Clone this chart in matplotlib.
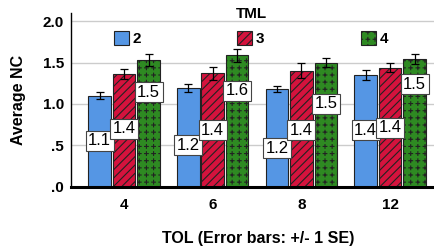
import warnings
import numpy as np
import matplotlib
matplotlib.use("Agg")
import matplotlib.pyplot as plt
from matplotlib.patches import Patch
from matplotlib.path import Path
import matplotlib.hatch as mhatch

warnings.filterwarnings("ignore")

# ---------------- data ----------------
tol_labels = ["4", "6", "8", "12"]
tml_labels = ["2", "3", "4"]
mean_tml2 = [1.10, 1.19, 1.18, 1.355]
mean_tml3 = [1.36, 1.37, 1.40, 1.44]
mean_tml4 = [1.53, 1.59, 1.50, 1.54]
se_tml2 = [0.04, 0.05, 0.04, 0.06]
se_tml3 = [0.06, 0.075, 0.09, 0.05]
se_tml4 = [0.07, 0.08, 0.057, 0.06]
ytick_vals = [0.0, 0.5, 1.0, 1.5, 2.0]
ytick_labels = [".0", ".5", "1.0", "1.5", "2.0"]

# value-label vertical placement (layout, data units)
label_y_tml2 = [0.555, 0.50, 0.46, 0.68]
label_y_tml3 = [0.70, 0.68, 0.68, 0.71]
label_y_tml4 = [1.14, 1.16, 1.00, 1.24]


# ---------------- custom "plus" hatch ----------------
class PlusHatch(mhatch.HatchPatternBase):
    def __init__(self, hatch, density):
        self.n = 14 * hatch.count("p")
        self.num_vertices = self.n * self.n * 4

    def set_vertices_and_codes(self, vertices, codes):
        n = self.n
        a = 0.26 / n
        k = 0
        for i in range(n):
            for j in range(n):
                cx = (i + 0.5) / n
                cy = (j + 0.5) / n
                vertices[k] = (cx - a, cy)
                vertices[k + 1] = (cx + a, cy)
                vertices[k + 2] = (cx, cy - a)
                vertices[k + 3] = (cx, cy + a)
                codes[k] = Path.MOVETO
                codes[k + 1] = Path.LINETO
                codes[k + 2] = Path.MOVETO
                codes[k + 3] = Path.LINETO
                k += 4


if PlusHatch not in mhatch._hatch_types:
    mhatch._hatch_types.append(PlusHatch)

plt.rcParams["font.family"] = ["Liberation Sans", "DejaVu Sans"]
plt.rcParams["hatch.linewidth"] = 0.8

colors = ["#5596E4", "#D4133D", "#2E8A22"]
hatches = [None, "////", "p"]

fig = plt.figure(figsize=(4.35, 2.52), dpi=100)
W, H = 435.0, 252.0
ax = fig.add_axes([71 / W, (H - 186.5) / H, (W - 71) / W, (186.5 - 13) / H])

x = np.arange(len(tol_labels))
offset = 0.276
width = 0.254
means = [mean_tml2, mean_tml3, mean_tml4]
ses = [se_tml2, se_tml3, se_tml4]
label_ys = [label_y_tml2, label_y_tml3, label_y_tml4]

for k in range(3):
    xs = x + (k - 1) * offset
    ax.bar(xs, means[k], width=width, color=colors[k], edgecolor="#222222",
           linewidth=0.8, hatch=hatches[k], zorder=2)
    ax.errorbar(xs, means[k], yerr=ses[k], fmt="none", ecolor="black",
                elinewidth=0.9, capsize=2.6, capthick=0.9, zorder=3)
for k in range(3):
    xs = x + (k - 1) * offset
    for xi, m, ly in zip(xs, means[k], label_ys[k]):
        ax.text(xi, ly, f"{m:.1f}", ha="center", va="center", fontsize=12,
                zorder=5,
                bbox=dict(boxstyle="square,pad=0.15", facecolor="white",
                          edgecolor="#444444", linewidth=0.8))

ax.set_xlim(-0.598, 3.506)
ax.set_ylim(0, 2.1)
ax.set_yticks(ytick_vals)
ax.set_yticklabels(ytick_labels, fontsize=11, fontweight="bold")
ax.set_xticks(x)
ax.set_xticklabels(tol_labels, fontsize=11, fontweight="bold")
ax.tick_params(axis="both", length=0)
ax.tick_params(axis="y", pad=5)
ax.tick_params(axis="x", pad=8)

ax.yaxis.grid(True, color="#cccccc", linewidth=1.0)
ax.set_axisbelow(True)
for s in ["top", "right"]:
    ax.spines[s].set_visible(False)
ax.spines["left"].set_color("black")
ax.spines["left"].set_linewidth(1.0)
ax.spines["bottom"].set_color("black")
ax.spines["bottom"].set_linewidth(2.2)
ax.spines["bottom"].set_zorder(4)

ax.set_ylabel("Average NC", fontsize=11.5, fontweight="bold")
ax.yaxis.set_label_coords((26 - 71) / (W - 71), 0.5)
ax.set_xlabel("TOL (Error bars: +/- 1 SE)", fontsize=11.5, fontweight="bold")
ax.xaxis.set_label_coords((258 - 71) / (W - 71), (186.5 - 231) / (186.5 - 13))

handles = [Patch(facecolor=colors[k], edgecolor="#222222", linewidth=0.8,
                 hatch=hatches[k], label=tml_labels[k]) for k in range(3)]
leg = fig.legend(handles=handles, loc="upper center",
                 bbox_to_anchor=(251 / W, 1 + 1 / H), ncol=3, frameon=False,
                 title="TML", fontsize=11,
                 title_fontproperties={"weight": "bold", "size": 11},
                 handlelength=0.98, handleheight=0.98, handletextpad=0.25,
                 columnspacing=6.3, borderpad=0.0, labelspacing=0.7)
for t in leg.get_texts():
    t.set_fontweight("bold")

fig.savefig("out.png", dpi=100)
